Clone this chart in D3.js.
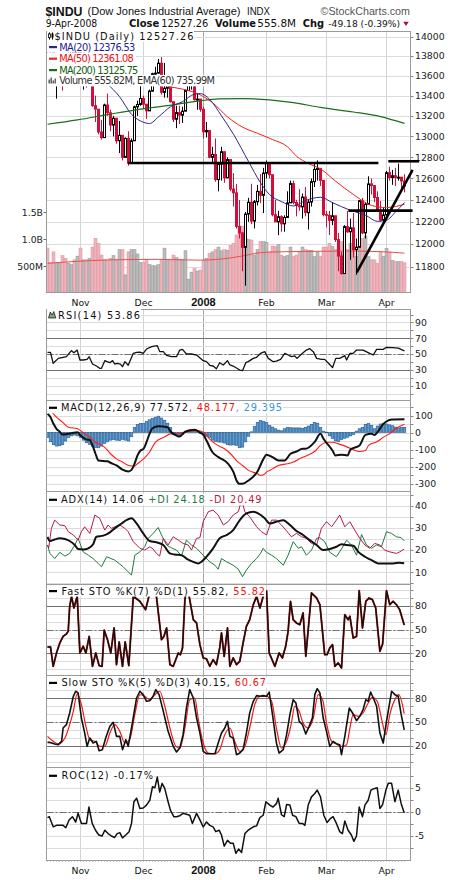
<!DOCTYPE html>
<html><head><meta charset="utf-8">
<script src="https://cdn.jsdelivr.net/npm/d3@7"></script>
<style>body{margin:0;background:#fff}svg{display:block}</style>
</head><body>
<svg id="c" width="460" height="880"></svg>
<script>
// ---------------- DATA ----------------
const dates = ["2007-10-17","2007-10-18","2007-10-19","2007-10-22","2007-10-23","2007-10-24","2007-10-25","2007-10-26","2007-10-29","2007-10-30","2007-10-31",
"2007-11-01","2007-11-02","2007-11-05","2007-11-06","2007-11-07","2007-11-08","2007-11-09","2007-11-12","2007-11-13","2007-11-14","2007-11-15","2007-11-16","2007-11-19","2007-11-20","2007-11-21","2007-11-23","2007-11-26","2007-11-27","2007-11-28","2007-11-29","2007-11-30",
"2007-12-03","2007-12-04","2007-12-05","2007-12-06","2007-12-07","2007-12-10","2007-12-11","2007-12-12","2007-12-13","2007-12-14","2007-12-17","2007-12-18","2007-12-19","2007-12-20","2007-12-21","2007-12-24","2007-12-26","2007-12-27","2007-12-28","2007-12-31",
"2008-01-02","2008-01-03","2008-01-04","2008-01-07","2008-01-08","2008-01-09","2008-01-10","2008-01-11","2008-01-14","2008-01-15","2008-01-16","2008-01-17","2008-01-18","2008-01-22","2008-01-23","2008-01-24","2008-01-25","2008-01-28","2008-01-29","2008-01-30","2008-01-31",
"2008-02-01","2008-02-04","2008-02-05","2008-02-06","2008-02-07","2008-02-08","2008-02-11","2008-02-12","2008-02-13","2008-02-14","2008-02-15","2008-02-19","2008-02-20","2008-02-21","2008-02-22","2008-02-25","2008-02-26","2008-02-27","2008-02-28","2008-02-29",
"2008-03-03","2008-03-04","2008-03-05","2008-03-06","2008-03-07","2008-03-10","2008-03-11","2008-03-12","2008-03-13","2008-03-14","2008-03-17","2008-03-18","2008-03-19","2008-03-20","2008-03-24","2008-03-25","2008-03-26","2008-03-27","2008-03-28","2008-03-31",
"2008-04-01","2008-04-02","2008-04-03","2008-04-04","2008-04-07","2008-04-08","2008-04-09"];

const open = [13913,13892,13889,13522,13567,13676,13675,13672,13807,13870,13792,
13930,13568,13595,13543,13661,13300,13266,13043,12988,13307,13231,13110,13177,12958,13010,12799,12981,12743,12958,13289,13312,
13372,13315,13249,13445,13620,13626,13727,13433,13474,13518,13340,13167,13232,13207,13246,13451,13549,13552,13360,13366,
13265,13044,13057,12800,12827,12589,12735,12853,12606,12778,12501,12466,12159,12099,11971,12270,12379,12207,12384,12480,12443,
12650,12743,12635,12265,12200,12247,12182,12240,12373,12552,12377,12348,12337,12427,12284,12381,12570,12685,12694,12582,
12266,12259,12214,12255,12040,11894,11740,12157,12110,12146,11951,11972,12393,12100,12361,12549,12533,12423,12302,12216,
12263,12654,12609,12626,12609,12612,12576];
const high = [14000,13930,13890,13600,13700,13680,13760,13840,13900,13870,13960,
13930,13650,13640,13670,13661,13400,13266,13160,13320,13420,13260,13200,13177,13150,13010,12990,13050,12980,13300,13350,13500,
13400,13315,13460,13630,13690,13770,13790,13730,13560,13518,13340,13300,13300,13290,13460,13570,13580,13552,13420,13366,
13290,13140,13057,12900,12980,12740,12900,12853,12800,12778,12650,12550,12400,12110,12290,12420,12550,12400,12540,12640,12700,
12770,12743,12635,12400,12300,12260,12260,12480,12580,12580,12400,12500,12460,12520,12400,12600,12740,12770,12694,12582,
12300,12300,12380,12255,12100,11930,12170,12300,12230,12280,12050,12400,12420,12380,12620,12600,12533,12480,12390,12330,
12670,12710,12680,12700,12740,12612,12640];
const low = [13777,13790,13510,13370,13560,13450,13560,13670,13800,13770,13720,
13540,13460,13480,13500,13290,13140,13020,12970,12988,13200,13050,13000,12930,12840,12770,12799,12720,12740,12958,13200,13300,
13270,13170,13249,13440,13590,13620,13410,13380,13380,13330,13140,13080,13120,13130,13246,13451,13460,13350,13260,13240,
12980,12990,12790,12750,12570,12480,12580,12560,12606,12480,12340,12140,12050,11760,11635,12200,12180,12140,12350,12370,12280,
12600,12600,12250,12200,12080,12110,12110,12240,12373,12360,12250,12300,12230,12250,12130,12340,12520,12580,12530,12250,
12150,12080,12170,12020,11760,11730,11740,12100,11860,11880,11730,11972,12090,12050,12361,12450,12380,12290,12200,12200,
12263,12580,12540,12530,12580,12500,12470];
const close = [13892,13889,13522,13567,13676,13675,13672,13807,13870,13792,13930,
13568,13595,13543,13661,13300,13266,13043,12988,13307,13231,13110,13177,12958,13010,12799,12981,12743,12958,13289,13312,13372,
13315,13249,13445,13620,13626,13727,13433,13474,13518,13340,13167,13232,13207,13246,13451,13549,13552,13360,13366,13265,
13044,13057,12800,12827,12589,12735,12853,12606,12778,12501,12466,12159,12099,11971,12270,12379,12207,12384,12480,12443,12650,
12743,12635,12265,12200,12247,12182,12240,12373,12552,12377,12348,12337,12427,12284,12381,12570,12685,12694,12582,12266,
12259,12214,12255,12040,11894,11740,12157,12110,12146,11951,11972,12393,12100,12361,12549,12533,12423,12302,12216,12263,
12654,12609,12626,12609,12612,12576,12527];
// volume in millions of shares
const volume = [830,560,760,560,545,690,640,545,520,610,680,
830,610,610,640,850,1010,920,700,610,610,640,690,620,800,800,330,760,800,800,720,560,
560,620,520,500,500,520,620,830,620,600,700,650,620,620,780,250,380,450,400,420,
610,640,730,760,800,850,780,800,790,880,920,1075,1230,1240,1010,990,980,700,800,950,950,
940,760,870,860,900,700,670,690,850,680,700,760,850,800,790,790,670,760,680,850,
850,920,860,800,860,950,890,800,920,860,670,860,1010,1056,670,610,610,545,760,680,
826,760,600,576,576,576,556];

// overlays: [trading-day index, value]
const ma20 = [[20,13515],[24,13390],[28,13215],[31,13150],[34,13125],[37,13190],[41,13290],[45,13340],[49,13415],[51,13420],[54,13365],[58,13200],[62,13020],[67,12760],[71,12560],[74,12450],[78,12385],[82,12345],[86,12395],[91,12425],[95,12375],[101,12305],[106,12260],[110,12205],[113,12215],[116,12290],[119,12377]];
const ma50 = [[40,13490],[45,13465],[50,13420],[55,13330],[60,13190],[65,13090],[70,13030],[75,12970],[80,12900],[83,12810],[87,12740],[91,12690],[96,12575],[102,12450],[108,12350],[113,12330],[116,12340],[119,12361]];
const ma200 = [[0,13118],[10,13160],[20,13212],[30,13262],[40,13300],[50,13345],[57,13367],[65,13370],[74,13358],[82,13330],[91,13283],[102,13238],[111,13193],[119,13126]];
const volEma60 = [[0,545],[20,608],[37,620],[45,610],[51,605],[60,639],[65,682],[71,745],[77,760],[90,770],[100,775],[111,763],[119,736]];

// chart annotations (trading-day index, price)
const resistance1 = [[26.8,12745],[110.3,12745]];
const resistance2 = [[113.6,12762],[123.9,12762]];
const support = [[100.3,12302],[121.7,12302]];
const trendLine = [[103.1,11750],[121.7,12680]];

const rsi14 = [[0,52.1],[1,52],[1.9,38.2],[3.6,44.5],[5.2,45.8],[6.3,46.6],[7.4,51.7],[8,54.2],[8.8,51.7],[9.9,55],[10.8,42.4],[11.9,42.4],[13.2,43.2],[13.9,46.6],[15,37.3],[16.3,34.8],[17.4,31.9],[18,31.9],[19.1,41.6],[19.9,40.3],[20.8,39],[21.7,41.6],[22.4,37.3],[23.2,38.2],[24.3,37.3],[25,34],[25.8,40.3],[26.9,35.7],[28.6,50.8],[29.7,52.1],[30.8,52.5],[31.9,50.8],[33,56.3],[34.7,59.3],[36.6,60.5],[37.4,53],[38.6,53],[39.7,48.3],[41.3,46.6],[43,46.6],[44.1,55],[45,55.9],[46.3,50],[48,50],[49.7,48.7],[51.9,41.6],[53,40.3],[54.1,35.7],[55.2,34.8],[56.3,31.4],[57.4,39],[58.6,36.1],[60,41.6],[60.8,36.1],[61.9,34.8],[63,32.3],[64.1,29.7],[65,28.9],[66.1,39],[66.9,40.3],[68.6,44.5],[69.7,45.8],[71,50.8],[72.4,53],[73.6,44.5],[75.2,40.3],[76.3,41.1],[77.7,43.2],[79.1,50.8],[80.2,48.7],[81.3,46.6],[82.4,47.5],[83.2,44.5],[84.7,50],[86.3,55],[87.4,56.8],[88.6,53],[89.7,44.5],[91.3,43.2],[92.4,43.2],[93.9,37.3],[95,32.7],[96.1,44.5],[97.4,44.5],[99.1,47.9],[99.7,42.4],[100.8,50.8],[101.9,50.8],[103,55],[105.2,55],[107.4,50.8],[108.6,48.7],[109.7,55.9],[111.9,55.9],[113,58.5],[115,58],[117,57.5],[118,55.5],[119,53.86]];

const macdLine = [[0,110],[1,90],[2,51],[3,22],[4,6],[5,-12],[8,-4],[10,2],[11,-18],[13,-41],[14,-43],[15,-76],[16,-125],[17,-165],[20,-169],[21,-178],[23,-194],[25,-218],[27,-229],[28,-220],[29,-184],[30,-135],[31,-106],[32,-96],[33,-57],[34,-8],[35,25],[37,37],[40,31],[41,6],[43,-18],[44,-24],[46,6],[49,16],[51,-2],[52,-14],[53,-47],[55,-116],[57,-145],[60,-180],[62,-233],[63,-282],[64,-302],[65,-302],[67,-282],[70,-229],[72,-155],[73,-131],[75,-145],[77,-165],[79,-165],[81,-125],[83,-112],[85,-96],[86,-96],[89,-57],[91,-8],[92,-37],[95,-106],[96,-135],[98,-131],[100,-135],[101,-100],[104,-76],[106,-14],[108,-8],[109,-14],[110,2],[112,51],[115,76],[119,77.6]];
const macdSignal = [[0,135],[2,110],[3,90],[5,61],[7,31],[10,22],[12,-2],[14,-27],[16,-57],[19,-86],[21,-125],[23,-155],[25,-174],[27,-194],[29,-198],[30,-184],[32,-155],[34,-116],[36,-57],[39,-27],[41,-8],[43,-8],[45,-2],[47,6],[50,10],[52,2],[54,-37],[56,-67],[59,-96],[61,-125],[63,-165],[65,-194],[67,-223],[70,-243],[71,-253],[72,-249],[73,-233],[75,-214],[77,-194],[80,-184],[82,-174],[84,-155],[86,-139],[89,-112],[91,-76],[93,-57],[95,-57],[97,-67],[100,-86],[102,-102],[104,-112],[106,-106],[107,-76],[110,-53],[112,-27],[114,-8],[116,22],[119,48.2]];
const macdHist = [-30,-55,-72,-80,-78,-72,-50,-30,-20,-15,
-20,-30,-45,-60,-70,-80,-88,-90,-80,-65,
-55,-45,-42,-45,-48,-40,-45,-50,-25,30,
48,52,52,65,75,82,90,96,85,72,
55,30,0,-12,-18,-12,4,14,16,10,
3,-6,-15,-22,-30,-45,-52,-56,-57,-62,
-72,-74,-73,-76,-90,-86,-55,-22,4,35,
60,70,65,58,42,32,22,14,10,22,
30,28,27,27,27,25,30,38,48,60,
55,30,8,2,-20,-35,-50,-54,-42,-34,
-28,-20,-12,8,22,30,48,52,42,22,
38,50,52,50,45,40,32,27,30,29.4];

const adx14 = [[0,26],[0.8,24.1],[2.4,24.8],[4.1,25.3],[5.8,25],[7.4,24.1],[9.1,22.3],[10.2,20.5],[11.9,20.3],[13.6,20.8],[15.2,22.6],[16.3,26],[18.6,26.5],[20.8,28],[22.4,29.8],[24.7,32],[26.3,33.5],[28,34.3],[29.7,32],[31.9,27.5],[34.1,24.1],[36.3,23.5],[38.6,22.3],[40.8,18.5],[42.4,18],[44.7,17.7],[46.3,16.2],[48.6,14.7],[50.2,14],[51.3,14.7],[53,17],[55.2,20.8],[57.4,25.3],[59.7,26.8],[61.9,29],[64.1,33.5],[66.3,36.5],[68.6,37.3],[70.2,36.5],[72.4,34.3],[74.1,32],[76.3,32.8],[78.6,33.5],[80.8,31.3],[83,28.6],[85.2,26.8],[87.4,24.5],[89.7,22.3],[91.9,20],[94.1,20.5],[96.3,21.5],[98,22.6],[99.7,22.3],[101.9,22],[103.6,19.2],[105.8,17],[108,15.5],[110.2,14],[113,14],[115.2,14],[117.4,14.3],[118.9,14.06]];
const plusDI = [[0,22.3],[0.8,18.5],[2.4,16.2],[4.1,19],[5.8,17.3],[7.4,18.5],[9.1,22.3],[10.2,25.3],[11.9,19.2],[13.6,17.7],[15.2,16.2],[16.9,14],[18,12.5],[19.7,17],[22.4,15.5],[25.2,12.5],[28,8.7],[29.1,17.7],[30.8,19.2],[32.4,21.5],[33.6,25.3],[35.2,27.5],[36.9,30.2],[38,26.8],[39.7,22.3],[41.3,21],[43,20],[44.7,17.4],[46.3,24.5],[48,22.3],[49.7,20.8],[51.9,17.7],[54.1,14.7],[55.8,13.2],[56.9,11.4],[58,16.2],[59.7,14.7],[61.9,13.2],[63.6,11.4],[65,8],[66.3,11],[68,14],[69.7,16.2],[71,18.5],[71.9,20.8],[73,19],[74.7,17.7],[76.3,16.2],[78.6,13.2],[80.2,17.7],[81.9,23.8],[83.6,20.8],[84.7,21.5],[86.3,17.7],[88,20],[89.7,25.3],[90.8,25.6],[92.4,23.8],[94.1,19],[96.3,17],[98,20.5],[99.7,24.5],[101.3,22.3],[103,17.7],[104.7,27],[106.3,22.3],[108,20.8],[109.7,22.3],[111.3,21.5],[113,28.3],[114.7,27.5],[116.3,26],[117.9,25.6],[118.9,24.18]];
const minusDI = [[0,22.3],[0.4,21],[1.3,29.8],[2.4,33.5],[4.1,31.3],[5.8,31],[6.9,28.3],[8.6,26.8],[10.2,24.5],[11.3,28.3],[12.4,30.5],[14.1,27.5],[15.8,35.8],[17.4,34.3],[19.1,29],[20.2,31.3],[21.3,29.8],[22.4,30.5],[24.1,31.3],[25.8,29.8],[26.9,28.3],[28.6,23.8],[30.8,20.8],[32.4,20],[34.1,21.5],[35.2,20.5],[36.3,18.5],[37.4,17.3],[38.6,25.3],[40.2,22.3],[41.9,26],[43.6,24.5],[45.2,23],[46.9,22.3],[48,20],[49.7,25.3],[50.8,25.6],[51.9,32.8],[53.6,37.3],[55.2,38],[56.9,35.8],[58.6,31.3],[60.2,32.8],[61.9,35.8],[63.6,37.3],[64.7,42.5],[65.8,37.3],[67.4,35],[69.7,30.5],[71.3,28.3],[73,26.8],[74.7,33.5],[76.3,33.5],[78,31.3],[79.7,28.6],[81.3,26],[83,27.5],[84.7,26],[86.3,25.3],[88,23],[89.7,22.3],[91.3,29.8],[93,32.8],[94.7,30.5],[96.3,33.5],[97.4,35.8],[99.1,30.5],[100.8,32.8],[102.4,29],[104.1,25.3],[105.8,22.3],[107.4,20.8],[109.1,23],[110.8,22.3],[112.4,20],[114.1,19.2],[116.3,18.5],[117.4,19.2],[118.9,20.49]];

const fastK = [[0,28],[1,28],[1.9,3.5],[3,20.4],[4.1,33.1],[5.2,41.5],[6.3,44.5],[6.9,48],[7.4,79.6],[8,92.2],[8.8,77.5],[9.9,92.2],[10.8,20.4],[11.9,28.9],[12.8,20.4],[13.9,41.5],[15,3.5],[16.1,20.4],[17.2,4.4],[18.2,3.5],[18.9,49.2],[20,37.3],[21.1,20.4],[22.2,52.1],[23,5.6],[23.9,34.4],[25,3.5],[25.9,34.4],[27.1,4.4],[28.6,92.2],[30.8,85.9],[32.7,75.3],[33.8,92.2],[34.5,99],[35.8,99],[36.3,92.2],[38,37.3],[38.8,41.5],[39.7,52.1],[40.8,5.6],[41.9,3.5],[43.6,20.4],[44.3,18.3],[45,26.8],[45.8,88],[46.3,99],[46.9,99],[48.6,62.7],[49.7,58.4],[50.8,31],[51.9,14.1],[53,12.9],[54.1,3.5],[55.2,12],[56.3,5.6],[57.4,26.8],[58,45.8],[58.9,16.2],[60,52.1],[60.8,3.5],[61.9,14.1],[63,5.6],[64.1,9.9],[65.2,33.1],[66.3,54.2],[67.4,62.7],[68.6,81.7],[69.7,92.2],[70.8,77.5],[71.9,92.2],[73,99],[73.9,20.4],[75.8,3.5],[77.2,20.4],[78.3,14.1],[79.4,28.9],[80.2,47.9],[81,85.9],[81.9,62.7],[83,58.4],[84.1,56.3],[85.2,71.1],[86.1,16.2],[88,96.5],[89.7,90.1],[90.8,81.7],[92.4,18.3],[93.2,18.3],[94.1,26.8],[95,31],[95.8,3.5],[96.9,7.8],[98,1.4],[99.1,69],[100.2,62.7],[100.8,66.9],[101.9,39.4],[103,41.5],[103.9,99.4],[105,52.1],[106.1,85.9],[107.2,90.1],[108.3,88],[109.4,77.5],[110.8,22.5],[111.7,31.8],[113,99.4],[114.1,81.7],[115.2,85.9],[116.3,81.7],[117.4,75.3],[118.9,55.82]];
const slowK = [[0,24.2],[0.8,24.2],[2.4,22.1],[3.6,21.3],[4.7,25.5],[5.2,42.4],[6.3,46.6],[7.4,61.4],[8.6,82.5],[9.4,88.9],[10.2,86.8],[11.3,55],[12.4,36],[13.2,19.2],[14.1,29.7],[15.2,23.4],[16.3,25.5],[17.2,13.7],[18.3,15],[19.4,29.7],[20.8,44.5],[21.9,49.6],[23,31.8],[24.1,31.8],[25,15],[26.1,27.6],[26.9,19.2],[28,42.4],[29.7,80.4],[30.8,88.9],[31.9,84.6],[33,76.2],[34.1,77],[35.2,82.5],[36.1,91],[37.2,84.6],[38.6,63.5],[40.2,38.2],[41.9,19.2],[43,12],[44.1,17],[45.2,34],[46.3,67.7],[47.4,91],[48.6,80.4],[49.7,55],[50.8,36],[51.9,12.8],[53,9.9],[55.8,9.9],[56.9,23.4],[58,36],[59.1,42.4],[60,50.8],[60.8,31.8],[61.9,29.7],[63,8.6],[64.1,10.7],[65.2,15],[66.3,36],[67.4,61.4],[68.6,76.2],[69.7,83.4],[70.8,82.5],[71.9,83.4],[73,82.5],[73.9,87.9],[75,59.3],[76.3,23.4],[77.2,10.7],[78.6,15],[79.7,34],[80.8,59.3],[81.9,78.3],[82.8,74.1],[83.9,50.8],[85,46.6],[86.1,34.8],[87.2,44.5],[88.3,55],[89.1,84.6],[89.9,92.2],[90.8,86.8],[91.9,55],[93,38.2],[94.1,19.2],[95.2,25.5],[96.3,22.5],[97.4,21.3],[98,8.6],[99.1,31.8],[100.6,67.7],[101.9,60.1],[103,51.7],[104.1,57.2],[105.2,65.6],[106.1,78.3],[106.9,76.2],[107.7,88],[108.6,80.4],[109.7,69.9],[110.8,36],[111.9,23.4],[113,50.8],[114.7,88.9],[115.8,84.6],[116.9,82.5],[117.9,59.3],[118.9,40.15]];
const slowD = [[0,31.8],[1.9,25.5],[3.6,22.1],[5.8,29.7],[7.4,46.6],[8.6,63.5],[9.9,85.5],[11.3,72],[12.8,44.5],[14.1,27.6],[15.8,25.5],[17.4,19.2],[19.1,19.2],[20.8,36],[22.4,46.6],[24.1,38.2],[25.8,23.4],[27.4,27.6],[29.1,59.3],[30.8,84.6],[32.4,82.5],[34.1,78.3],[35.8,84.6],[37.4,88.9],[39.1,69.9],[40.8,42.4],[42.8,19.2],[44.1,17],[45.8,42.4],[47.4,78.3],[49.1,80.4],[50.2,55],[51.9,23.4],[53.6,10.7],[55.8,9.9],[57.4,15],[59.1,34],[60.8,42.4],[62.4,25.5],[64.1,12.8],[65.8,19.2],[67.4,42.4],[69.1,72],[70.8,82.5],[73,82.5],[74.7,76.2],[76.3,42.4],[78,17],[79.7,25.5],[81.3,48.7],[82.4,69.9],[83.9,63.5],[85.2,48.7],[86.9,42.4],[88.6,55],[90.2,84.6],[91.7,78.3],[93,48.7],[94.7,25.5],[96.3,22.1],[98,19.2],[99.7,21.3],[100.8,42.4],[101.9,59.3],[103.6,57.2],[105.2,61.4],[106.9,74.1],[108.3,81.2],[109.9,76.2],[111.3,55],[112.8,34],[114.1,59.3],[115.8,78.3],[117.1,84.6],[118.9,60.67]];
const roc12 = [[0,-1.2],[0.6,-1],[1.9,-3.1],[3,-2.8],[5.2,-2.8],[6.1,-3.3],[7.2,-1.7],[8.3,-1],[9.4,-2.1],[10.2,-0.3],[11.3,-2.4],[13,-2.4],[13.8,1],[14.9,-2.4],[16,-3.8],[17.1,-4.8],[18.2,-5],[19.1,-3.8],[20.2,-4.5],[21.3,-5],[22.4,-5.3],[23.2,-4.5],[24.1,-4.3],[25,-5.4],[26.1,-4.8],[27.2,-4.1],[28,-2.4],[28.8,2.1],[29.7,2.8],[30.8,0.7],[31.9,0.8],[33,1.4],[34.1,2.4],[35,5.2],[35.8,5],[36.6,7.2],[37.4,4.1],[38.2,5.9],[39.1,4.8],[40.2,2.1],[41,0.3],[42.1,-1],[43,-1],[44.1,-0.8],[45.2,-0.3],[46.3,-0.5],[47.4,-0.7],[48.3,-2.4],[49.7,-0.3],[50.6,-1.4],[51.9,-3.1],[53,-2.1],[54.1,-2.8],[55.2,-3.1],[56.1,-4.1],[57.2,-3.8],[58,-4.8],[58.9,-7.1],[60,-5.9],[61,-6.5],[61.9,-6.5],[62.8,-8.6],[63.7,-7.7],[64.7,-8.4],[65.8,-4.5],[66.9,-3.8],[68.6,-3.1],[69.7,-2.9],[70.8,-1.2],[71.9,-0.7],[72.8,2.1],[74.1,1.4],[75.2,1],[76.3,1.7],[76.9,2.8],[78,-0.6],[78.9,-1],[79.7,1.5],[80.8,1.4],[81.7,-0.7],[82.8,-1],[83.9,-2.4],[85,-2.4],[85.8,-2.8],[86.9,1.4],[88,3.1],[89.1,3.8],[89.9,4.5],[91,3.1],[92.1,-0.7],[93.2,-2.2],[94.3,-1.4],[95.2,-1],[96.3,-2.4],[97.4,-4.1],[98.3,-4.5],[99.1,-1.9],[100.2,-3.8],[101.3,-4.8],[102.1,-6.1],[103,-5],[103.9,1],[105,-1],[105.8,1.4],[106.9,2.4],[107.8,4.5],[108.8,4.8],[109.9,5],[110.8,0.7],[111.7,1.5],[112.8,4.5],[113.6,5.9],[114.7,5.9],[115.8,2.1],[116.9,4.5],[117.9,1.7],[118.9,-0.17]];

// axis ticks / labels
const monthTickDates = ["2007-11-01","2007-12-03","2008-01-02","2008-02-01","2008-03-03","2008-04-01"];
const monthLabels = ["Nov","Dec","2008","Feb","Mar","Apr"];
const priceTicks = [11800,12000,12200,12400,12600,12800,13000,13200,13400,13600,13800,14000];
const volTicks = [500,1000,1500];
const volTickLabels = ["500M","1.0B","1.5B"];

// ---------------- DRAWING ----------------
const F = "'DejaVu Sans', Verdana, sans-serif";
const FA = "'Liberation Sans', Arial, sans-serif";
const svg = d3.select("#c");
svg.append("rect").attr("width",460).attr("height",880).attr("fill","#fff");
const defs = svg.append("defs");
const PL = 46.5, PR = 410.5;
const x = d3.scaleLinear().domain([0, dates.length - 1]).range([47.5, 404.5]);
const monthIdx = monthTickDates.map(d => dates.indexOf(d));

function makePanel(name, top, bottom) {
  defs.append("clipPath").attr("id", "clip-" + name).append("rect")
    .attr("x", PL).attr("y", top).attr("width", PR - PL).attr("height", bottom - top);
  const g = svg.append("g");
  const grid = g.append("g");
  const plot = g.append("g").attr("clip-path", `url(#clip-${name})`);
  const over = g.append("g");
  monthIdx.forEach((mi, k) => {
    grid.append("line").attr("x1", x(mi)).attr("x2", x(mi)).attr("y1", top).attr("y2", bottom)
      .attr("stroke", k === 2 ? "#a8a8a8" : "#d4d4d4").attr("stroke-width", 1);
  });
  return {name, top, bottom, g, grid, plot, over};
}
function hGrid(p, y, vals, color) {
  vals.forEach(v => {
    const yy = Math.round(y(v)) + 0.5;
    if (yy <= p.top || yy >= p.bottom) return;
    p.grid.append("line").attr("x1", PL).attr("x2", PR).attr("y1", yy).attr("y2", yy)
      .attr("stroke", color || "#dcdcdc").attr("stroke-width", 1);
    p.over.append("line").attr("x1", PR).attr("x2", PR + 3).attr("y1", yy).attr("y2", yy).attr("stroke", "#888");
  });
}
function refLine(p, y, v, dashed) {
  const yy = Math.round(y(v)) + 0.5;
  p.grid.append("line").attr("x1", PL).attr("x2", PR).attr("y1", yy).attr("y2", yy)
    .attr("stroke", "#707070").attr("stroke-width", 1).attr("stroke-dasharray", dashed ? "7,2,2,2" : null);
}
function rightLabels(p, y, vals) {
  vals.forEach(v => {
    p.over.append("text").attr("x", 415).attr("y", y(v)).attr("dy", "0.36em")
      .attr("font-family", F).attr("font-size", 9.3).attr("fill", "#222").text(v);
  });
}
function frame(p) {
  p.over.append("rect").attr("x", PL).attr("y", p.top).attr("width", PR - PL).attr("height", p.bottom - p.top)
    .attr("fill", "none").attr("stroke", "#9a9a9a").attr("stroke-width", 1);
}
function pathLine(p, data, y, color, w, curve) {
  const ln = d3.line().x(d => x(d[0])).y(d => y(d[1]));
  if (curve) ln.curve(curve);
  p.plot.append("path").attr("d", ln(data)).attr("fill", "none").attr("stroke", color)
    .attr("stroke-width", w).attr("stroke-linejoin", "round");
}
function legend(g, x0, yb, len, parts, size) {
  const t = g.append("text").attr("x", x0).attr("y", yb).attr("font-family", F)
    .attr("font-size", size || 9.8).attr("textLength", len).attr("lengthAdjust", "spacing");
  parts.forEach(pt => t.append("tspan").attr("fill", pt[1]).text(pt[0]));
  return t;
}
function legendBg(g, x0, x1, yb) {
  g.append("rect").attr("x", x0).attr("y", yb - 9.5).attr("width", x1 - x0).attr("height", 11.5).attr("fill", "#fff");
}
function dash(g, yb, color) {
  g.append("line").attr("x1", 49).attr("x2", 57).attr("y1", yb - 3.5).attr("y2", yb - 3.5)
    .attr("stroke", color || "#000").attr("stroke-width", 2.2);
}

// ----- header -----
const hd = svg.append("g");
hd.append("text").attr("x", 45.5).attr("y", 15.5).attr("font-family", FA).attr("font-weight", "bold")
  .attr("font-size", 12.5).attr("textLength", 37).attr("lengthAdjust", "spacingAndGlyphs").attr("fill", "#111").text("$INDU");
hd.append("text").attr("x", 87.5).attr("y", 15).attr("font-family", FA).attr("font-size", 11.2)
  .attr("textLength", 153).attr("lengthAdjust", "spacingAndGlyphs").attr("fill", "#111").text("(Dow Jones Industrial Average)");
hd.append("text").attr("x", 247).attr("y", 15).attr("font-family", FA).attr("font-size", 10)
  .attr("textLength", 23).attr("lengthAdjust", "spacingAndGlyphs").attr("fill", "#111").text("INDX");
hd.append("text").attr("x", 320.5).attr("y", 15).attr("font-family", FA).attr("font-size", 11)
  .attr("textLength", 89.5).attr("lengthAdjust", "spacingAndGlyphs").attr("fill", "#555").text("©StockCharts.com");
const row2 = [["9-Apr-2008",45.7,51.6,false],["Close",129,30.3,true],["12527.26",161.3,47,false],["Volume",215,41,true],
  ["555.8M",257.3,38.7,false],["Chg",302.7,21.3,true],["-49.18 (-0.39%)",328.3,71.7,false]];
row2.forEach(r => hd.append("text").attr("x", r[1]).attr("y", 27.3).attr("font-family", F).attr("font-size", r[0].length > 12 ? 9.2 : 10)
  .attr("font-weight", r[3] ? "bold" : "normal").attr("textLength", r[2]).attr("lengthAdjust", "spacingAndGlyphs")
  .attr("fill", "#111").text(r[0]));
hd.append("path").attr("d", "M403.3,21.8 L408.7,21.8 L406,26 Z").attr("fill", "#a0103a");

// ----- main price panel -----
const main = makePanel("main", 31.5, 292.5);
const yP = d3.scaleLog().domain([11800, 14000]).range([266.7, 36.7]);
const yV = d3.scaleLinear().domain([0, 1000]).range([292.5, 239]);
hGrid(main, yP, priceTicks);
rightLabels(main, yP, priceTicks);
volTicks.forEach((v, k) => {
  const yy = Math.round(yV(v)) + 0.5;
  main.over.append("line").attr("x1", PL - 3).attr("x2", PL).attr("y1", yy).attr("y2", yy).attr("stroke", "#666");
  main.over.append("text").attr("x", 43).attr("y", yy).attr("dy", "0.36em").attr("text-anchor", "end")
    .attr("font-family", F).attr("font-size", 9.3).attr("fill", "#222").text(volTickLabels[k]);
});
volume.forEach((v, i) => {
  const down = i > 0 ? close[i] < close[i - 1] : close[i] < open[i];
  main.plot.append("rect").attr("x", x(i) - 1.5).attr("width", 3).attr("y", yV(v)).attr("height", yV(0) - yV(v))
    .attr("fill", down ? "#efb4bc" : "#bdbdbd").attr("stroke", down ? "#dc8e9a" : "#939393").attr("stroke-width", 0.5);
});
pathLine(main, volEma60, yV, "#e8504a", 1, d3.curveMonotoneX);
close.forEach((c, i) => {
  const o = open[i];
  const red = i > 0 ? c < close[i - 1] : c < o;
  const col = red ? "#d0103a" : "#000";
  main.plot.append("line").attr("x1", x(i)).attr("x2", x(i)).attr("y1", yP(high[i])).attr("y2", yP(low[i]))
    .attr("stroke", col).attr("stroke-width", 1);
  const yt = yP(Math.max(o, c)), yb = yP(Math.min(o, c));
  if (c > o) {
    main.plot.append("rect").attr("x", x(i) - 1).attr("width", 2).attr("y", yt).attr("height", Math.max(1, yb - yt))
      .attr("fill", "#fff").attr("stroke", col).attr("stroke-width", 1);
  } else {
    main.plot.append("rect").attr("x", x(i) - 1.5).attr("width", 3).attr("y", yt - 0.5).attr("height", Math.max(1.5, yb - yt + 1))
      .attr("fill", col);
  }
});
pathLine(main, ma200, yP, "#1a701a", 1.2, d3.curveMonotoneX);
pathLine(main, ma50, yP, "#ee2222", 1, d3.curveMonotoneX);
pathLine(main, ma20, yP, "#2a2a8a", 1, d3.curveMonotoneX);
frame(main);
[resistance1, resistance2, support, trendLine].forEach(seg => {
  svg.append("line").attr("x1", x(seg[0][0])).attr("y1", yP(seg[0][1])).attr("x2", x(seg[1][0])).attr("y2", yP(seg[1][1]))
    .attr("stroke", "#000").attr("stroke-width", 2.6);
});
const lg = svg.append("g");
legendBg(lg, 47, 194, 39.8); legendBg(lg, 47, 136, 50.6); legendBg(lg, 47, 136, 62.2); legendBg(lg, 47, 139, 73.6); legendBg(lg, 47, 216, 84.4);
lg.append("line").attr("x1", 49.5).attr("x2", 49.5).attr("y1", 32.5).attr("y2", 39.5).attr("stroke", "#000");
lg.append("rect").attr("x", 48.5).attr("y", 34).attr("width", 2).attr("height", 3.5).attr("fill", "#fff").attr("stroke", "#000").attr("stroke-width", 0.8);
lg.append("line").attr("x1", 52.5).attr("x2", 52.5).attr("y1", 32.5).attr("y2", 39.5).attr("stroke", "#000");
lg.append("rect").attr("x", 51.5).attr("y", 33.5).attr("width", 2).attr("height", 4).attr("fill", "#000");
legend(lg, 54.5, 39.8, 139, [["$INDU (Daily) 12527.26", "#111"]]);
dash(lg, 50.6, "#2a2a8a"); legend(lg, 59.3, 50.6, 76, [["MA(20) 12376.53", "#1e1e8c"]]);
dash(lg, 62.2, "#ee2222"); legend(lg, 59.3, 62.2, 74.5, [["MA(50) 12361.08", "#e81010"]]);
dash(lg, 73.6, "#1a701a"); legend(lg, 59.3, 73.6, 79, [["MA(200) 13125.75", "#106010"]]);
[[48.5,4],[50.5,6],[52.5,3],[54.5,5]].forEach(b => lg.append("rect").attr("x", b[0]).attr("y", 83.5 - b[1]).attr("width", 1.4).attr("height", b[1]).attr("fill", "#555"));
legend(lg, 59.3, 84.4, 155.7, [["Volume 555.82M, EMA(60) 735.99M", "#333"]]);

function monthAxis(yb) {
  monthIdx.forEach((mi, k) => {
    svg.append("text").attr("x", x(mi)).attr("y", yb).attr("text-anchor", "middle")
      .attr("font-family", k === 2 ? FA : F).attr("font-size", k === 2 ? 11 : 9.3)
      .attr("font-weight", k === 2 ? "bold" : "normal").attr("fill", "#111").text(monthLabels[k]);
  });
}
monthAxis(305.8);
monthAxis(873.8);

// ----- RSI -----
const rsiP = makePanel("rsi", 309.5, 400.5);
const yR = d3.scaleLinear().domain([10, 90]).range([385.6, 322.4]);
hGrid(rsiP, yR, d3.range(0, 101, 10));
refLine(rsiP, yR, 70); refLine(rsiP, yR, 30); refLine(rsiP, yR, 50, true);
rightLabels(rsiP, yR, [10, 30, 50, 70, 90]);
pathLine(rsiP, rsi14, yR, "#111", 1.3);
frame(rsiP);
legendBg(rsiP.over, 47, 141, 318.5);
rsiP.over.append("path").attr("d", "M48.5,318 L50.3,312 L52.2,315 L53.8,311.5 L55.8,318 Z").attr("fill", "#7aa77a").attr("stroke", "#222").attr("stroke-width", 0.8);
legend(rsiP.over, 58, 318.5, 82, [["RSI(14) 53.86", "#111"]]);

// ----- MACD -----
const macdP = makePanel("macd", 400.5, 491.5);
const yM = d3.scaleLinear().domain([-300, 100]).range([483.5, 415.5]);
hGrid(macdP, yM, d3.range(-300, 151, 50));
rightLabels(macdP, yM, [-300, -200, -100, 0, 100]);
macdHist.forEach((v, i) => {
  const y0 = yM(0), y1 = yM(v);
  macdP.plot.append("rect").attr("x", x(i) - 1.3).attr("width", 2.6).attr("y", Math.min(y0, y1)).attr("height", Math.max(0.6, Math.abs(y1 - y0)))
    .attr("fill", "#5b9bd0").attr("stroke", "#23598c").attr("stroke-width", 0.6);
});
pathLine(macdP, macdSignal, yM, "#ff1a1a", 1.1, d3.curveMonotoneX);
pathLine(macdP, macdLine, yM, "#111", 2, d3.curveMonotoneX);
frame(macdP);
legendBg(macdP.over, 47, 283, 411.3);
dash(macdP.over, 411.3);
legend(macdP.over, 61, 411.3, 221, [["MACD(12,26,9) 77.572", "#111"], [", 48.177", "#ee1010"], [", 29.395", "#3a9ad0"]]);

// ----- ADX -----
const adxP = makePanel("adx", 491.5, 584.5);
const yA = d3.scaleLinear().domain([10, 40]).range([572.3, 505.7]);
hGrid(adxP, yA, d3.range(5, 46, 5));
rightLabels(adxP, yA, [10, 20, 30, 40]);
pathLine(adxP, plusDI, yA, "#1d7a3f", 1);
pathLine(adxP, minusDI, yA, "#b51a4a", 1);
pathLine(adxP, adx14, yA, "#111", 2, d3.curveMonotoneX);
frame(adxP);
legendBg(adxP.over, 47, 263, 503.3);
dash(adxP.over, 503.3);
legend(adxP.over, 61, 503.3, 200.5, [["ADX(14) 14.06 ", "#111"], ["+DI 24.18 ", "#1d7a3f"], ["-DI 20.49", "#b51a4a"]]);

// ----- Fast STO -----
const fP = makePanel("fsto", 584.5, 675.5);
const yFs = d3.scaleLinear().domain([20, 80]).range([653.3, 606]);
hGrid(fP, yFs, d3.range(0, 101, 10));
refLine(fP, yFs, 80); refLine(fP, yFs, 20); refLine(fP, yFs, 50, true);
rightLabels(fP, yFs, [20, 50, 80]);
pathLine(fP, fastK, yFs, "#d01010", 1.9);
pathLine(fP, fastK, yFs, "#111", 1.4);
frame(fP);
legendBg(fP.over, 47, 266, 594.6);
dash(fP.over, 594.6);
legend(fP.over, 61.5, 594.6, 203.5, [["Fast STO %K(7) %D(1) 55.82, ", "#111"], ["55.82", "#ee1010"]]);

// ----- Slow STO -----
const sP = makePanel("ssto", 675.5, 767.5);
const ySs = d3.scaleLinear().domain([20, 80]).range([745.7, 698.3]);
hGrid(sP, ySs, d3.range(0, 101, 10));
refLine(sP, ySs, 80); refLine(sP, ySs, 20); refLine(sP, ySs, 50, true);
rightLabels(sP, ySs, [20, 50, 80]);
pathLine(sP, slowD, ySs, "#ee1a1a", 1.2, d3.curveMonotoneX);
pathLine(sP, slowK, ySs, "#111", 1.6);
frame(sP);
legendBg(sP.over, 47, 267, 686.4);
dash(sP.over, 686.4);
legend(sP.over, 61.5, 686.4, 204.5, [["Slow STO %K(5) %D(3) 40.15, ", "#111"], ["60.67", "#ee1010"]]);

// ----- ROC -----
const rP = makePanel("roc", 767.5, 860.5);
const yRc = d3.scaleLinear().domain([-5, 5]).range([836, 787.7]);
hGrid(rP, yRc, d3.range(-7.5, 7.6, 2.5));
refLine(rP, yRc, 0, true);
rightLabels(rP, yRc, [-5, 0, 5]);
pathLine(rP, roc12, yRc, "#111", 1.5);
frame(rP);
dates.forEach((d, i) => rP.over.append("line").attr("x1", x(i)).attr("x2", x(i)).attr("y1", 860.5).attr("y2", 862).attr("stroke", "#aaa").attr("stroke-width", 0.6));
legendBg(rP.over, 47, 154, 779.3);
dash(rP.over, 779.3);
legend(rP.over, 61.5, 779.3, 91.5, [["ROC(12) -0.17%", "#111"]]);
</script>
</body></html>
